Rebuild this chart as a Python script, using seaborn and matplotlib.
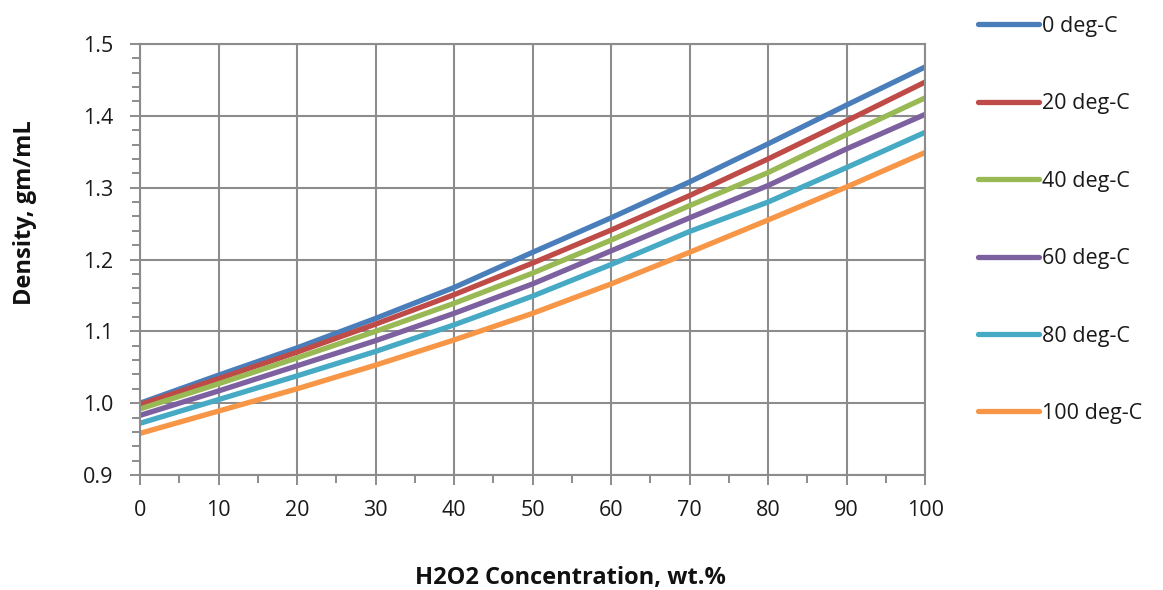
import numpy as np
import pandas as pd
import matplotlib
matplotlib.use("Agg")
import matplotlib.pyplot as plt
import seaborn as sns
from matplotlib.ticker import MultipleLocator, FormatStrFormatter

conc = [0, 10, 20, 30, 40, 50, 60, 70, 80, 90, 100]
series_labels = ["0 deg-C", "20 deg-C", "40 deg-C", "60 deg-C", "80 deg-C", "100 deg-C"]
d0 = [1.000, 1.039, 1.077, 1.118, 1.161, 1.210, 1.258, 1.308, 1.361, 1.415, 1.468]
d20 = [0.998, 1.034, 1.071, 1.110, 1.151, 1.195, 1.241, 1.289, 1.340, 1.393, 1.447]
d40 = [0.992, 1.027, 1.063, 1.100, 1.139, 1.181, 1.227, 1.275, 1.321, 1.374, 1.425]
d60 = [0.983, 1.017, 1.052, 1.087, 1.125, 1.166, 1.212, 1.258, 1.303, 1.354, 1.402]
d80 = [0.972, 1.005, 1.038, 1.072, 1.109, 1.149, 1.193, 1.239, 1.280, 1.328, 1.377]
d100 = [0.958, 0.989, 1.020, 1.053, 1.088, 1.125, 1.166, 1.210, 1.255, 1.301, 1.349]
all_series = [d0, d20, d40, d60, d80, d100]
colors = ["#4A7EBB", "#BE4B48", "#98B954", "#7D60A0", "#46AAC5", "#F79646"]

rows = []
for lab, vals in zip(series_labels, all_series):
    for c, v in zip(conc, vals):
        rows.append({"conc": c, "density": v, "series": lab})
df = pd.DataFrame(rows)

sns.set_style("white")
plt.rcParams["font.family"] = ["Open Sans", "DejaVu Sans"]

fig = plt.figure(figsize=(11.63, 5.90), dpi=100)
ax = fig.add_axes([0.1204, 0.1949, 0.6750, 0.7305])

sns.lineplot(data=df, x="conc", y="density", hue="series", hue_order=series_labels,
             palette=colors, linewidth=3.8, ax=ax, legend=True)

ax.set_xlim(0, 100)
ax.set_ylim(0.9, 1.5)
ax.xaxis.set_major_locator(MultipleLocator(10))
ax.xaxis.set_minor_locator(MultipleLocator(5))
ax.yaxis.set_major_locator(MultipleLocator(0.1))
ax.yaxis.set_minor_locator(MultipleLocator(0.02))
ax.yaxis.set_major_formatter(FormatStrFormatter("%.1f"))
gridc = "#8C8C8C"
ax.grid(True, which="major", color=gridc, linewidth=1.5)
for s in ax.spines.values():
    s.set_color(gridc)
    s.set_linewidth(1.5)
ax.tick_params(axis="both", which="major", direction="out", length=7, width=1.4,
               color=gridc, labelsize=15.5, labelcolor="#1A1A1A",
               bottom=True, left=True)
ax.tick_params(axis="y", which="major", pad=12)
ax.tick_params(axis="x", which="major", pad=11)
ax.tick_params(axis="both", which="minor", direction="out", length=5.5, width=1.4,
               color=gridc, bottom=True, left=True)

ax.set_xlabel("H2O2 Concentration, wt.%", fontsize=17, fontweight="bold",
              color="#111111")
ax.set_ylabel("Density, gm/mL", fontsize=17, fontweight="bold",
              color="#111111")
ax.xaxis.label.set_va("center")
ax.yaxis.label.set_va("center")
ax.xaxis.set_label_coords(0.548, -0.239)
ax.yaxis.set_label_coords(-0.147, 0.608)

handles, labels = ax.get_legend_handles_labels()
leg = ax.legend(handles, labels, loc="upper left", bbox_to_anchor=(978 / 1163, 0.973),
                bbox_transform=fig.transFigure,
                frameon=False, fontsize=15.5, labelspacing=2.62, handlelength=2.85,
                handletextpad=0.12, borderaxespad=0, borderpad=0.0)
for t in leg.get_texts():
    t.set_color("#1A1A1A")

fig.savefig("out.png", dpi=100, facecolor="white")
